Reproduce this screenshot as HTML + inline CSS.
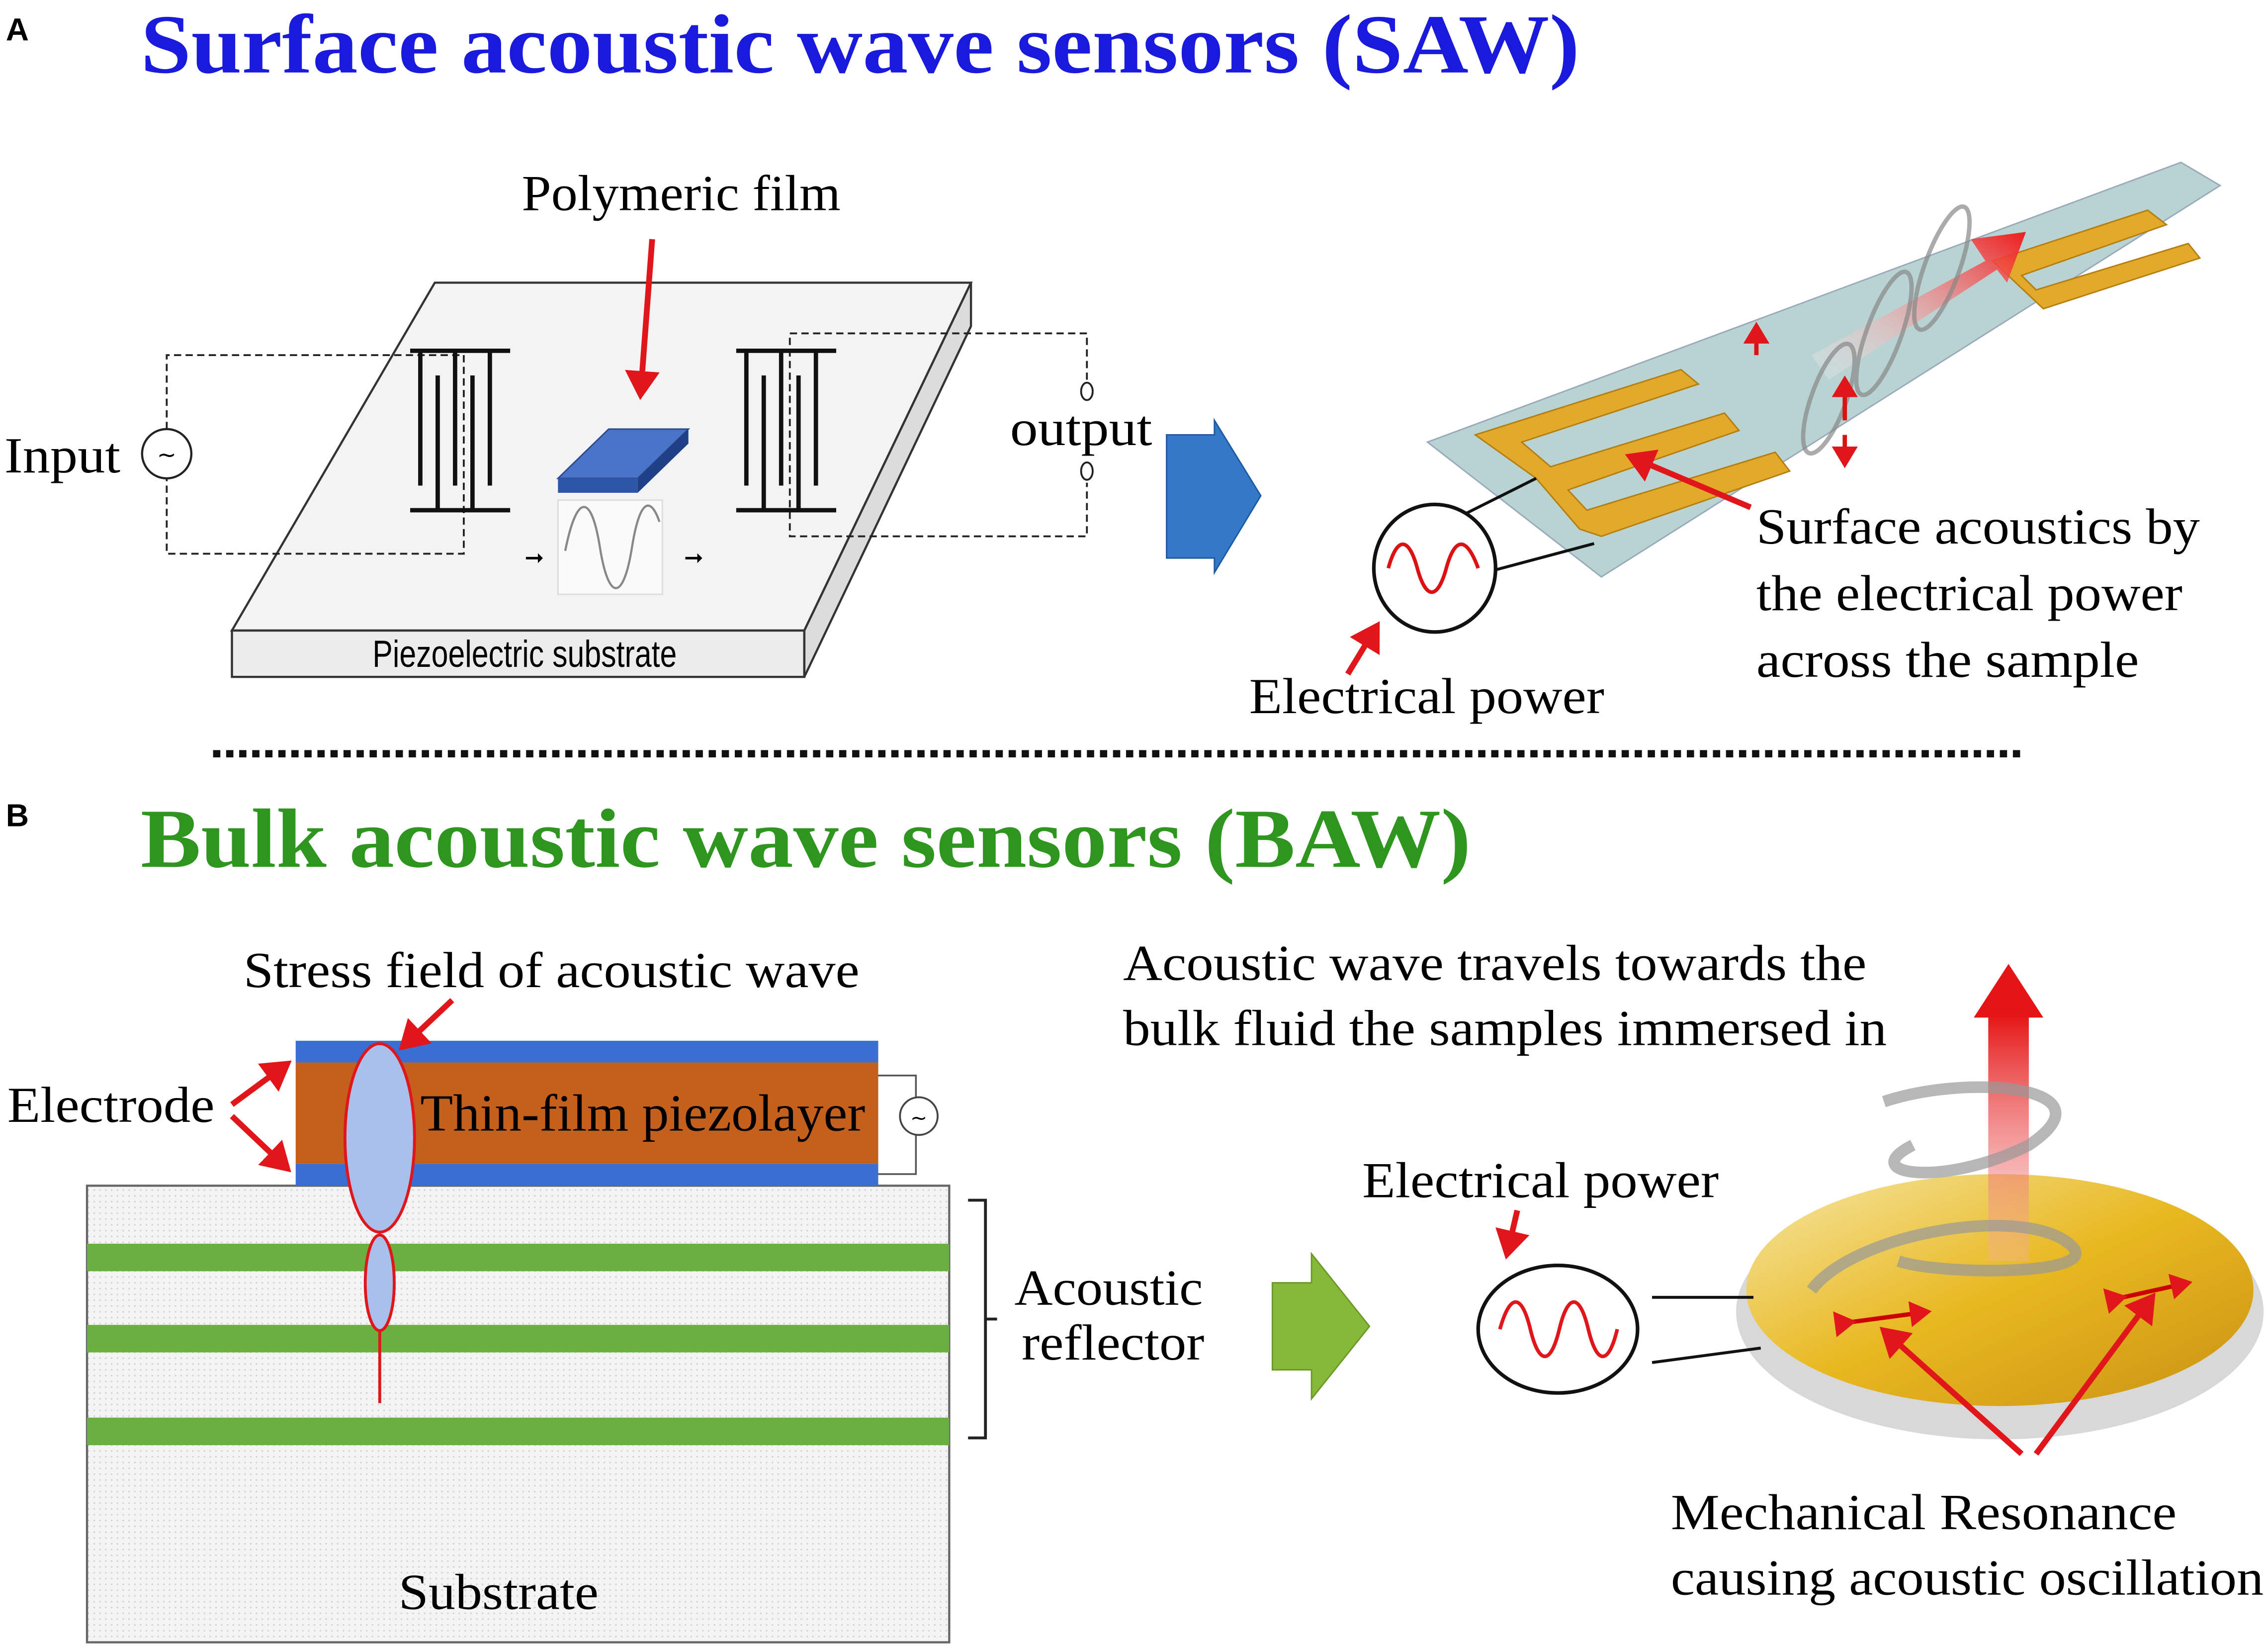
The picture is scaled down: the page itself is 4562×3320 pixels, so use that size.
<!DOCTYPE html>
<html><head><meta charset="utf-8"><style>
html,body{margin:0;padding:0;background:#fff;}
svg{display:block;}
.s{font-family:"Liberation Serif",serif;}
</style></head><body>
<svg width="4562" height="3320" viewBox="0 0 1565 1139" xmlns="http://www.w3.org/2000/svg">
<defs>
<marker id="ra" markerWidth="6" markerHeight="6" refX="4" refY="3" orient="auto" markerUnits="strokeWidth"><path d="M0,0 L5,3 L0,6 z" fill="#e0161b"/></marker>
<pattern id="dots" width="4" height="4" patternUnits="userSpaceOnUse"><rect width="4" height="4" fill="#f4f4f4"/><circle cx="1" cy="1" r="0.6" fill="#d2d2d2"/></pattern>
<linearGradient id="gold" x1="0" y1="0" x2="1" y2="1"><stop offset="0" stop-color="#f6e7a6"/><stop offset="0.5" stop-color="#e8b820"/><stop offset="1" stop-color="#c99212"/></linearGradient>
<linearGradient id="redar" x1="0" y1="1" x2="1" y2="0"><stop offset="0" stop-color="#ffffff" stop-opacity="0.2"/><stop offset="1" stop-color="#ee1c1c"/></linearGradient>
<linearGradient id="redup" x1="0" y1="1" x2="0" y2="0"><stop offset="0" stop-color="#f6b0b0" stop-opacity="0.3"/><stop offset="1" stop-color="#e51515"/></linearGradient>
</defs>
<rect width="1565" height="1139" fill="#fff"/>

<text x="4" y="28" font-family="Liberation Sans,sans-serif" font-weight="bold" font-size="22">A</text>
<text x="97" y="50" class="s" font-weight="bold" font-size="58" fill="#1a1adc" textLength="993" lengthAdjust="spacingAndGlyphs">Surface acoustic wave sensors (SAW)</text>

<polygon points="300,195 670,195 555,435 160,435" fill="#f3f3f3" stroke="#333" stroke-width="1.5"/>
<polygon points="160,435 555,435 555,467 160,467" fill="#ececec" stroke="#333" stroke-width="1.5"/>
<polygon points="555,435 670,195 670,225 555,467" fill="#dcdcdc" stroke="#333" stroke-width="1.5"/>
<text x="362" y="460" text-anchor="middle" font-family="Liberation Sans,sans-serif" font-size="26" textLength="210" lengthAdjust="spacingAndGlyphs">Piezoelectric substrate</text>

<g fill="none" stroke="#222" stroke-width="1.3" stroke-dasharray="5,3">
<polyline points="115,296 115,245 320,245 320,382 115,382 115,330"/>
<polyline points="750,262 750,230 545,230 545,370 750,370 750,333"/>
</g>
<circle cx="115" cy="313" r="17" fill="#fff" stroke="#222" stroke-width="1.5"/>
<text x="115" y="319" text-anchor="middle" font-size="16" font-family="DejaVu Sans,sans-serif">~</text>
<ellipse cx="750" cy="270" rx="4" ry="6" fill="#fff" stroke="#222" stroke-width="1.3"/>
<ellipse cx="750" cy="325" rx="4" ry="6" fill="#fff" stroke="#222" stroke-width="1.3"/>
<text x="3" y="326" class="s" font-size="35" textLength="80" lengthAdjust="spacingAndGlyphs">Input</text>
<text x="697" y="307" class="s" font-size="35" textLength="98" lengthAdjust="spacingAndGlyphs">output</text>

<g stroke="#111" stroke-width="3">
<line x1="283" y1="242" x2="352" y2="242"/><line x1="283" y1="352" x2="352" y2="352"/>
<line x1="290" y1="242" x2="290" y2="335"/><line x1="302" y1="259" x2="302" y2="352"/><line x1="314" y1="242" x2="314" y2="335"/><line x1="326" y1="259" x2="326" y2="352"/><line x1="338" y1="242" x2="338" y2="335"/>
<line x1="508" y1="242" x2="577" y2="242"/><line x1="508" y1="352" x2="577" y2="352"/>
<line x1="515" y1="242" x2="515" y2="335"/><line x1="527" y1="259" x2="527" y2="352"/><line x1="539" y1="242" x2="539" y2="335"/><line x1="551" y1="259" x2="551" y2="352"/><line x1="563" y1="242" x2="563" y2="335"/>
</g>
<polygon points="385,330 420,296 475,296 440,330" fill="#4a74c8" stroke="#2c4a90" stroke-width="1"/>
<polygon points="385,330 440,330 440,340 385,340" fill="#2e56a8"/>
<polygon points="440,330 475,296 475,306 440,340" fill="#1f3f86"/>
<rect x="385" y="345" width="72" height="65" fill="#fafafa" stroke="#ddd"/>
<path d="M390,380 C398,340 408,340 414,378 C420,415 430,415 436,378 C442,340 450,345 455,360" fill="none" stroke="#888" stroke-width="1.5"/>
<text x="362" y="390" font-size="16">➞</text><text x="472" y="390" font-size="16">➞</text>
<line x1="450" y1="165" x2="442" y2="272" stroke="#e0161b" stroke-width="4" marker-end="url(#ra)"/>
<text x="360" y="145" class="s" font-size="35" textLength="220" lengthAdjust="spacingAndGlyphs">Polymeric film</text>

<polygon points="805,300 838,300 838,290 870,342 838,395 838,385 805,385" fill="#3478c8" stroke="#1d5aa0"/>

<!-- SAW strip -->
<polygon points="985,305 1505,112 1532,128 1105,398" fill="#b9d3d3" stroke="#9ab" stroke-width="1"/>
<g fill="#e2a92a" stroke="#b57e10" stroke-width="1">
<path d="M1018,300 L1160,255 L1172,265 L1050,305 L1070,322 L1190,285 L1200,297 L1082,338 L1095,352 L1225,312 L1235,325 L1105,370 L1090,365 L1060,330 Z"/>
<path d="M1375,180 L1482,145 L1495,155 L1395,190 L1405,200 L1510,168 L1518,178 L1410,213 Z"/>
</g>
<polygon points="1250,245 1370,180 1360,165 1398,160 1385,195 1378,186 1262,262" fill="url(#redar)"/>
<g fill="none" stroke="#888" stroke-width="3" opacity="0.7">
<ellipse cx="1262" cy="275" rx="12" ry="40" transform="rotate(20 1262 275)"/>
<ellipse cx="1300" cy="230" rx="12" ry="45" transform="rotate(20 1300 230)"/>
<ellipse cx="1340" cy="185" rx="12" ry="45" transform="rotate(20 1340 185)"/>
</g>
<g stroke="#d11" stroke-width="3" marker-end="url(#ra)">
<line x1="1212" y1="245" x2="1212" y2="225"/>
<line x1="1273" y1="290" x2="1273" y2="262"/>
<line x1="1273" y1="300" x2="1273" y2="320"/>
</g>
<line x1="1000" y1="360" x2="1060" y2="330" stroke="#111" stroke-width="2"/>
<line x1="1025" y1="395" x2="1100" y2="375" stroke="#111" stroke-width="2"/>
<ellipse cx="990" cy="392" rx="42" ry="44" fill="#fff" stroke="#111" stroke-width="2.5"/>
<path d="M958,392 C964,370 972,370 978,392 C984,414 992,414 998,392 C1004,370 1012,370 1020,392" fill="none" stroke="#d11" stroke-width="2.5"/>
<line x1="1208" y1="350" x2="1125" y2="315" stroke="#e0161b" stroke-width="4" marker-end="url(#ra)"/>
<line x1="930" y1="465" x2="950" y2="432" stroke="#e0161b" stroke-width="4" marker-end="url(#ra)"/>
<text x="862" y="492" class="s" font-size="35" textLength="245" lengthAdjust="spacingAndGlyphs">Electrical power</text>
<text class="s" font-size="35"><tspan x="1212" y="375" textLength="306" lengthAdjust="spacingAndGlyphs">Surface acoustics by</tspan><tspan x="1212" y="421" textLength="294" lengthAdjust="spacingAndGlyphs">the electrical power</tspan><tspan x="1212" y="467" textLength="264" lengthAdjust="spacingAndGlyphs">across the sample</tspan></text>

<line x1="147" y1="520" x2="1397" y2="520" stroke="#111" stroke-width="5" stroke-dasharray="5,4"/>

<text x="4" y="570" font-family="Liberation Sans,sans-serif" font-weight="bold" font-size="22">B</text>
<text x="97" y="598" class="s" font-weight="bold" font-size="58" fill="#2e961f" textLength="918" lengthAdjust="spacingAndGlyphs">Bulk acoustic wave sensors (BAW)</text>

<rect x="60" y="818" width="595" height="315" fill="url(#dots)" stroke="#666" stroke-width="1.5"/>
<rect x="60" y="858" width="595" height="19" fill="#6ab040"/>
<rect x="60" y="914" width="595" height="19" fill="#6ab040"/>
<rect x="60" y="978" width="595" height="19" fill="#6ab040"/>
<rect x="204" y="718" width="402" height="15" fill="#3a6ed2"/>
<rect x="204" y="733" width="402" height="70" fill="#c4601c"/>
<rect x="204" y="803" width="402" height="15" fill="#3a6ed2"/>
<text x="290" y="780" class="s" font-size="36" textLength="307" lengthAdjust="spacingAndGlyphs">Thin-film piezolayer</text>
<polyline points="606,742 632,742 632,810 606,810" fill="none" stroke="#555" stroke-width="1.2"/>
<circle cx="634" cy="770" r="13" fill="#fff" stroke="#444" stroke-width="1.3"/>
<text x="634" y="776" text-anchor="middle" font-size="14" font-family="DejaVu Sans,sans-serif">~</text>
<ellipse cx="262" cy="785" rx="24" ry="65" fill="#a8c0ea" stroke="#e0161b" stroke-width="2"/>
<ellipse cx="262" cy="885" rx="10" ry="33" fill="#a8c0ea" stroke="#e0161b" stroke-width="2"/>
<line x1="262" y1="918" x2="262" y2="968" stroke="#e0161b" stroke-width="2"/>
<line x1="312" y1="690" x2="278" y2="722" stroke="#e0161b" stroke-width="4" marker-end="url(#ra)"/>
<text x="168" y="681" class="s" font-size="35" textLength="425" lengthAdjust="spacingAndGlyphs">Stress field of acoustic wave</text>
<text x="5" y="774" class="s" font-size="35" textLength="143" lengthAdjust="spacingAndGlyphs">Electrode</text>
<line x1="160" y1="762" x2="198" y2="734" stroke="#e0161b" stroke-width="4" marker-end="url(#ra)"/>
<line x1="160" y1="770" x2="198" y2="806" stroke="#e0161b" stroke-width="4" marker-end="url(#ra)"/>
<path d="M668,828 L680,828 L680,992 L668,992 M680,910 L688,910" fill="none" stroke="#222" stroke-width="2"/>
<text class="s" font-size="35"><tspan x="700" y="900" textLength="130" lengthAdjust="spacingAndGlyphs">Acoustic</tspan><tspan x="705" y="938" textLength="126" lengthAdjust="spacingAndGlyphs">reflector</tspan></text>

<polygon points="878,885 905,885 905,865 945,915 905,965 905,945 878,945" fill="#86b83a" stroke="#6a9a25"/>

<text class="s" font-size="35"><tspan x="775" y="676" textLength="513" lengthAdjust="spacingAndGlyphs">Acoustic wave travels towards the</tspan><tspan x="775" y="721" textLength="527" lengthAdjust="spacingAndGlyphs">bulk fluid the samples immersed in</tspan></text>
<text x="940" y="826" class="s" font-size="35" textLength="246" lengthAdjust="spacingAndGlyphs">Electrical power</text>
<line x1="1047" y1="835" x2="1040" y2="865" stroke="#e0161b" stroke-width="4" marker-end="url(#ra)"/>

<ellipse cx="1380" cy="905" rx="182" ry="88" fill="#d8d8d8"/>
<ellipse cx="1380" cy="890" rx="175" ry="80" fill="url(#gold)"/>
<line x1="1140" y1="895" x2="1210" y2="895" stroke="#111" stroke-width="2"/>
<line x1="1140" y1="940" x2="1215" y2="930" stroke="#111" stroke-width="2"/>
<ellipse cx="1075" cy="917" rx="55" ry="44" fill="#fff" stroke="#111" stroke-width="2.5"/>
<path d="M1035,917 C1042,892 1050,892 1056,917 C1062,942 1070,942 1076,917 C1082,892 1090,892 1096,917 C1102,942 1110,942 1116,917" fill="none" stroke="#e0161b" stroke-width="2.5"/>
<rect x="1372" y="700" width="28" height="170" fill="url(#redup)"/>
<polygon points="1362,702 1386,665 1410,702" fill="#e51515"/>
<path d="M1300,760 C1360,740 1460,750 1400,790 C1340,820 1280,810 1320,790 M1250,890 C1280,850 1400,830 1430,860 C1450,880 1340,880 1310,870" fill="none" stroke="#999" stroke-width="8" opacity="0.7"/>
<g stroke="#c00" stroke-width="3" marker-end="url(#ra)" marker-start="url(#ra)">
<line x1="1278" y1="912" x2="1330" y2="905"/>
<line x1="1465" y1="895" x2="1510" y2="885"/>
</g>
<line x1="1395" y1="1003" x2="1300" y2="918" stroke="#e0161b" stroke-width="4" marker-end="url(#ra)"/>
<line x1="1405" y1="1003" x2="1485" y2="895" stroke="#e0161b" stroke-width="4" marker-end="url(#ra)"/>
<text class="s" font-size="35"><tspan x="1153" y="1055" textLength="349" lengthAdjust="spacingAndGlyphs">Mechanical Resonance</tspan><tspan x="1153" y="1100" textLength="409" lengthAdjust="spacingAndGlyphs">causing acoustic oscillation</tspan></text>
<text x="275" y="1110" class="s" font-size="35" textLength="138" lengthAdjust="spacingAndGlyphs">Substrate</text>
</svg>
</body></html>
